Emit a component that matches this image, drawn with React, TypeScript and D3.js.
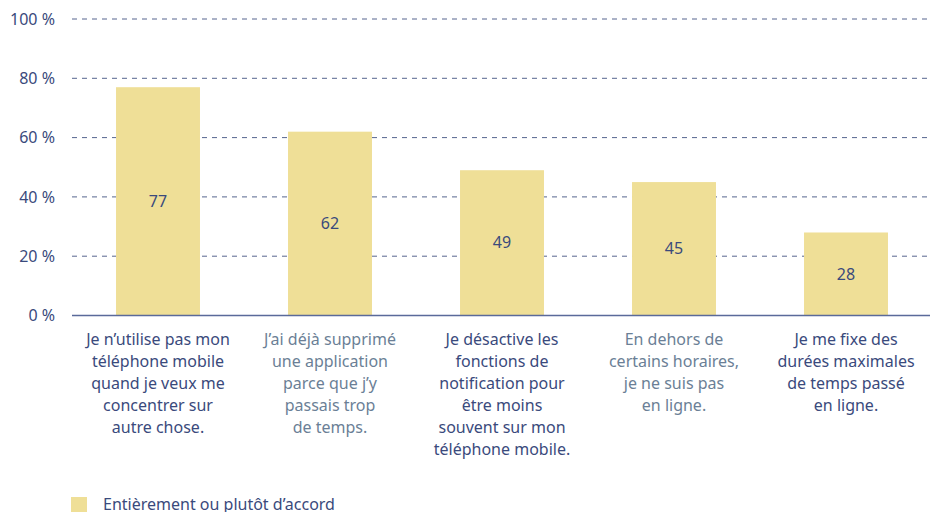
import React from "react";
import * as d3 from "d3";

const categories: string[][] = [
  ["Je n’utilise pas mon", "téléphone mobile", "quand je veux me", "concentrer sur", "autre chose."],
  ["J’ai déjà supprimé", "une application", "parce que j’y", "passais trop", "de temps."],
  ["Je désactive les", "fonctions de", "notification pour", "être moins", "souvent sur mon", "téléphone mobile."],
  ["En dehors de", "certains horaires,", "je ne suis pas", "en ligne."],
  ["Je me fixe des", "durées maximales", "de temps passé", "en ligne."],
];
const values: number[] = [77, 62, 49, 45, 28];
const yTicks: number[] = [0, 20, 40, 60, 80, 100];
const legendLabel = "Entièrement ou plutôt d’accord";

const W = 930;
const H = 512;
const FONT = "'Noto Sans', sans-serif";
const DARK = "#3a4a7c";
const LIGHT = "#6b7f96";
const BAR = "#efdf97";

export default function App() {
  const x = d3
    .scaleBand<number>()
    .domain(values.map((_, i) => i))
    .range([72, 932])
    .paddingInner(0.512)
    .paddingOuter(0.256);
  const y = d3.scaleLinear().domain([0, 100]).range([315.5, 19]);

  return (
    <svg
      width={W}
      height={H}
      style={{ position: "absolute", left: 0, top: 0, background: "#fff" }}
      fontFamily={FONT}
    >
      {yTicks.map((t) => (
        <g key={t}>
          {t > 0 && (
            <line
              x1={72}
              x2={928}
              y1={y(t)}
              y2={y(t)}
              stroke="#3a4a7c"
              strokeWidth={1}
              strokeDasharray="5,5"
              opacity={0.85}
            />
          )}
          <text
            x={55}
            y={y(t)}
            dy="0.35em"
            textAnchor="end"
            fontSize={16}
            fill={DARK}
          >
            {t} %
          </text>
        </g>
      ))}
      {values.map((v, i) => (
        <g key={i}>
          <rect x={x(i)} y={y(v)} width={x.bandwidth()} height={y(0) - y(v)} fill={BAR} />
          <text
            x={(x(i) as number) + x.bandwidth() / 2}
            y={(y(v) + y(0)) / 2}
            dy="0.35em"
            textAnchor="middle"
            fontSize={16}
            fill={DARK}
          >
            {v}
          </text>
        </g>
      ))}
      <line x1={72} x2={930} y1={y(0)} y2={y(0)} stroke="#5a6a9a" strokeWidth={1.5} />
      {categories.map((lines, i) => (
        <text
          key={i}
          x={(x(i) as number) + x.bandwidth() / 2}
          y={345}
          textAnchor="middle"
          fontSize={16}
          fill={i % 2 === 0 ? DARK : LIGHT}
        >
          {lines.map((l, j) => (
            <tspan key={j} x={(x(i) as number) + x.bandwidth() / 2} dy={j === 0 ? 0 : 22}>
              {l}
            </tspan>
          ))}
        </text>
      ))}
      <rect x={71} y={497} width={16} height={16} fill={BAR} />
      <text x={103} y={510} fontSize={16} fill={DARK}>
        {legendLabel}
      </text>
    </svg>
  );
}
